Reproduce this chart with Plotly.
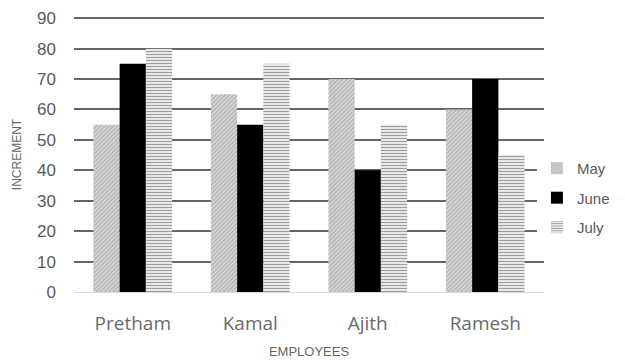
import plotly.graph_objects as go

employees = ["Pretham", "Kamal", "Ajith", "Ramesh"]
may = [55, 65, 70, 60]
june = [75, 55, 40, 70]
july = [80, 75, 55, 45]

fig = go.Figure()
fig.add_trace(go.Bar(
    x=employees, y=may, name="May", legendgroup="a",
    marker=dict(color="#d9d9d9", line=dict(width=0),
                pattern=dict(shape="/", fgcolor="#8c8c8c", bgcolor="#d9d9d9", size=3, solidity=0.5)),
))
fig.add_trace(go.Bar(
    x=employees, y=june, name="June", legendgroup="b",
    marker=dict(color="#000000", line=dict(width=0)),
))
fig.add_trace(go.Bar(
    x=employees, y=july, name="July", legendgroup="c",
    marker=dict(color="white", line=dict(width=0),
                pattern=dict(shape="-", fgcolor="#404040", bgcolor="white", size=3, solidity=0.5)),
))

# the page body adds 8px of margin, so the margins are shifted by that
fig.update_layout(
    width=625, height=363,
    margin=dict(l=66, r=89, t=9, b=79, autoexpand=False),
    paper_bgcolor="white", plot_bgcolor="white",
    barmode="group", bargap=0.33, bargroupgap=0,
    font=dict(family="Liberation Sans, Arial", color="#595959"),
    legend=dict(x=0.985, xanchor="left", y=0.342, yanchor="middle",
                font=dict(size=15, color="#595959"), tracegroupgap=7,
                itemwidth=30),
    xaxis=dict(
        title=dict(text="EMPLOYEES", font=dict(size=13, color="#666666"), standoff=12),
        tickfont=dict(size=19, family="Open Sans, Liberation Sans", color="#6b6b6b"),
        showline=True, linecolor="#d9d9d9", linewidth=1,
        ticks="", ticklabelstandoff=14, automargin=False,
    ),
    yaxis=dict(
        title=dict(text="INCREMENT", font=dict(size=12, color="#666666"), standoff=12),
        range=[0, 90.4], tickvals=[0, 10, 20, 30, 40, 50, 60, 70, 80, 90],
        tickfont=dict(size=17, color="#595959"),
        showgrid=True, gridcolor="#666666", gridwidth=2,
        zeroline=False, ticks="", ticklabelstandoff=17, automargin=False,
    ),
)

fig.write_html("out.html")
